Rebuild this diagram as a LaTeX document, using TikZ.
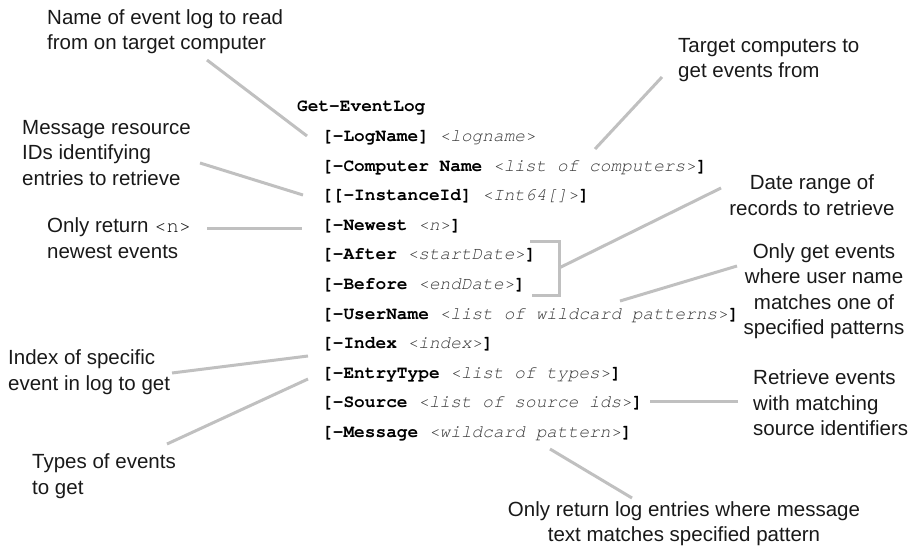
\documentclass[tikz,border=0pt]{standalone}
\usepackage{fontspec}
\setmainfont{Liberation Sans}
\newfontfamily\codefont{TeX Gyre Cursor}
\definecolor{conn}{HTML}{C0C0C0}
\definecolor{argc}{HTML}{383838}
\newcommand{\cargx}[1]{{\itshape\color{argc}#1}}
\newcommand{\cprm}[1]{\textbf{#1}}
\begin{document}
\begin{tikzpicture}[x=1pt,y=-1pt,
  lbl/.style={inner sep=0pt, font=\fontsize{20.5}{25.5}\selectfont, text=black!90},
  code/.style={inner sep=0pt, anchor=base west, font=\codefont\fontsize{17.8}{20}\selectfont},
  conline/.style={draw=conn, line width=3pt},
  brk/.style={draw=conn, line width=3pt}]
\useasboundingbox (0,0) rectangle (920,552);
% code lines
\node[code] (r0) at (297,111) {\cprm{Get-EventLog}};
\node[code] (r1) at (322,141.5) {\cprm{[-LogName]} \cargx{<logname>}};
\node[code] (r2) at (322,171.1) {\cprm{[-Computer Name} \cargx{<list of computers>}\cprm{]}};
\node[code] (r3) at (322,200.7) {\cprm{[[-InstanceId]} \cargx{<Int64[]>}\cprm{]}};
\node[code] (r4) at (322,230.3) {\cprm{[-Newest} \cargx{<n>}\cprm{]}};
\node[code] (r5) at (322,259.9) {\cprm{[-After} \cargx{<startDate>}\cprm{]}};
\node[code] (r6) at (322,289.5) {\cprm{[-Before} \cargx{<endDate>}\cprm{]}};
\node[code] (r7) at (322,319.1) {\cprm{[-UserName} \cargx{<list of wildcard patterns>}\cprm{]}};
\node[code] (r8) at (322,348.7) {\cprm{[-Index} \cargx{<index>}\cprm{]}};
\node[code] (r9) at (322,378.3) {\cprm{[-EntryType} \cargx{<list of types>}\cprm{]}};
\node[code] (r10) at (322,407.9) {\cprm{[-Source} \cargx{<list of source ids>}\cprm{]}};
\node[code] (r11) at (322,437.5) {\cprm{[-Message} \cargx{<wildcard pattern>}\cprm{]}};
% labels
\node[lbl, anchor=west, align=left] (l1) at (47,31.5) {Name of event log to read\\from on target computer};
\node[lbl, anchor=west, align=left] (l2) at (22,153) {Message resource\\IDs identifying\\entries to retrieve};
\node[lbl, anchor=west, align=left] (l3) at (47,238) {Only return {\codefont <n>}\\newest events};
\node[lbl, anchor=west, align=left] (l4) at (678,60) {Target computers to\\get events from};
\node[lbl, align=center] (l5) at (812,195) {Date range of\\records to retrieve};
\node[lbl, align=center] (l6) at (824,291) {Only get events\\where user name\\matches one of\\specified patterns};
\node[lbl, anchor=west, align=left] (l7) at (8,372) {Index of specific\\event in log to get};
\node[lbl, anchor=west, align=left] (l8) at (32,476) {Types of events\\to get};
\node[lbl, anchor=west, align=left] (l9) at (753,403) {Retrieve events\\with matching\\source identifiers};
\node[lbl, align=center] (l10) at (684,523.5) {Only return log entries where message\\text matches specified pattern};
% connector end points
\coordinate (a1) at (207,60);  \coordinate (b1) at (307,136);
\coordinate (a2) at (200,163); \coordinate (b2) at (303,195);
\coordinate (a3) at (207,228); \coordinate (b3) at (302,228);
\coordinate (a4) at (662,77);  \coordinate (b4) at (595,149);
\coordinate (a5) at (721,188); \coordinate (b5) at (559,268);
\coordinate (a6) at (737,266); \coordinate (b6) at (620,301);
\coordinate (a7) at (172,373); \coordinate (b7) at (308,356);
\coordinate (a8) at (167,444); \coordinate (b8) at (308,379);
\coordinate (a9) at (738,401); \coordinate (b9) at (650,401);
\coordinate (a10) at (632,498); \coordinate (b10) at (550,449);
% bracket
\coordinate (k1) at (530,241); \coordinate (k2) at (559,241);
\coordinate (k3) at (559,295); \coordinate (k4) at (532,295);
\draw[brk] (k1) -- (k2) -- (k3) -- (k4);
% connectors
\foreach \i in {1,...,10} {\draw[conline] (a\i) -- (b\i);}
\end{tikzpicture}
\end{document}
